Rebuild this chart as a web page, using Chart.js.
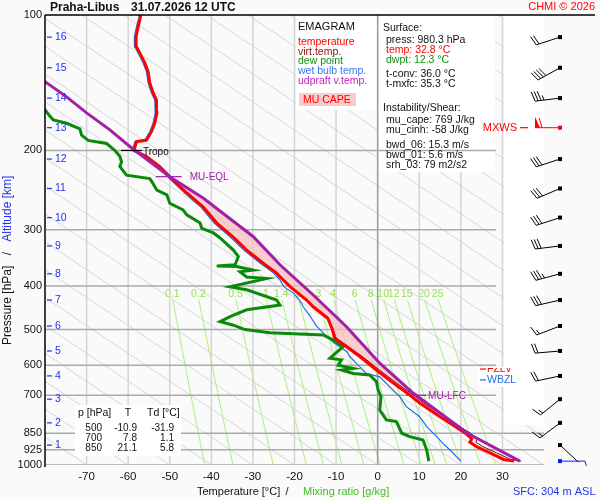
<!DOCTYPE html>
<html>
<head>
<meta charset="utf-8">
<script src="https://cdn.jsdelivr.net/npm/chart.js@4.4.1/dist/chart.umd.min.js"></script>
<style>
html, body { margin: 0; padding: 0; background: #fafafa; }
#wrap { width: 600px; height: 500px; }
</style>
</head>
<body>
<div id="wrap"><canvas id="emagram" width="600" height="500"></canvas></div>
<script>
const FONT = 'Liberation Sans, Arial, sans-serif';

// ---- sounding data (pressure hPa / temperature °C) ----
const tempP = [980.3, 972, 940, 910, 890, 875, 862, 850, 815, 781, 728, 700, 657, 615, 574, 546, 522, 500, 472, 445, 430, 402, 388, 374.6, 355.7, 333, 311, 290, 266.7, 248.6, 232.6, 217.3, 206.4, 200, 191.2, 189.6, 181.7, 173.8, 165.1, 154.5, 149, 141.6, 133.8, 127.8, 121.5, 117.6, 111.7, 106.2, 102.6, 100];
const tempT = [32.8, 30.3, 27.0, 23.8, 22.2, 22.6, 21.9, 21.1, 18.1, 15.0, 10.1, 7.8, 3.7, -0.3, -4.3, -7.5, -10.4, -10.9, -12.0, -15.5, -17.1, -21.0, -22.7, -24.3, -27.6, -31.5, -34.8, -38.7, -42.0, -45.9, -49.2, -52.4, -55.6, -58.6, -58.0, -55.6, -54.4, -53.6, -53.1, -53.2, -54.0, -54.8, -55.2, -56.0, -57.2, -58.0, -58.1, -57.6, -57.2, -57.0];

const virtP = [980.3, 972, 940, 910, 890, 875, 862, 850, 815, 781, 728, 700, 657, 615, 574, 546, 522, 500, 472, 445, 430, 402, 388, 374.6, 355.7, 333, 311, 290, 266.7, 248.6, 232.6, 217.3];
const virtT = [34.5, 32.0, 28.6, 25.3, 23.6, 23.9, 23.1, 22.3, 19.2, 16.0, 11.0, 8.7, 4.5, 0.4, -3.7, -7.0, -10.0, -10.7, -11.9, -15.4, -17.0, -20.9, -22.7, -24.3, -27.6, -31.5, -34.8, -38.7, -42.0, -45.9, -49.2, -52.4];

const dewP = [980.3, 926, 880, 865, 850, 801, 794, 755, 705, 681, 653, 631, 626, 615, 610, 600, 584, 579, 546, 537, 523, 514, 508, 500, 489, 480, 468, 452, 441, 430, 408, 402, 385, 382, 372, 369, 362, 361, 359, 344, 333, 313, 305, 298, 290, 278, 271, 262, 251, 245, 237, 231, 227, 217, 212, 206, 200, 193, 190, 185, 179, 174, 171, 168, 160, 150];
const dewT = [12.3, 11.8, 10.9, 7.7, 5.8, 4.5, 2.1, 0.5, 0.8, 0.1, -0.3, -1.9, -5.9, -8.7, -5.9, -9.5, -8.7, -11.5, -8.3, -9.5, -11.5, -13.1, -25.9, -31.9, -34.7, -37.9, -35.5, -31.5, -23.5, -24.3, -31.5, -35.5, -26.7, -31.5, -33.1, -29.9, -33.9, -38.7, -34.3, -33.5, -34.7, -37.9, -39.5, -42.3, -42.7, -45.9, -46.8, -50.0, -50.7, -53.1, -54.0, -54.8, -60.4, -62.0, -61.6, -62.0, -63.2, -65.2, -69.6, -71.2, -71.6, -74.8, -78.0, -78.8, -80.5, -84.0];

const wetP = [980.3, 926, 895, 865, 822, 781, 742, 705, 670, 637, 626, 600, 574, 560, 535, 510, 490, 466, 445, 430, 415, 402, 388, 374.6, 355.7, 333, 311, 290, 266.7, 248.6, 232.6, 217.3, 206.4, 200, 191.2, 189.6, 181.7, 173.8, 165.1, 154.5, 149, 141.6, 133.8, 127.8, 121.5, 117.6, 111.7, 106.2, 102.6, 100];
const wetT = [20.0, 17.4, 15.7, 14.2, 11.8, 10.1, 6.9, 5.3, 2.9, 0.5, -2.7, -4.7, -6.7, -7.4, -10.5, -13.0, -14.8, -16.3, -17.9, -18.8, -20.3, -22.5, -23.5, -25.0, -28.3, -32.2, -35.5, -39.3, -42.6, -46.4, -49.7, -52.8, -56.0, -59.0, -58.4, -56.0, -54.8, -54.0, -53.5, -53.6, -54.4, -55.2, -55.6, -56.4, -57.6, -58.4, -58.5, -58.0, -57.6, -57.4];

const parcelP = [980.3, 850, 693, 594, 493, 419, 359, 311, 255.5, 228.7, 196, 180, 165, 152, 140.7, 130];
const parcelT = [34.2, 21.6, 8.6, 0.5, -7.5, -15.5, -23.5, -29.9, -41.9, -50.0, -59.6, -64.4, -70.0, -74.8, -80.0, -84.0];

// levels
const lfcP = 700, eqlP = 228.7, tropoP = 200, tropoT = -58.6;
const fzlvP = 612, wbzlP = 647;

// axes
const pressureTicks = [100, 200, 300, 400, 500, 600, 700, 850, 925, 1000];
const isotherms = [-70, -60, -50, -40, -30, -20, -10, 0, 10, 20, 30];
const altKm = [16, 15, 14, 13, 12, 11, 10, 9, 8, 7, 6, 5, 4, 3, 2, 1];
const altP = [112, 131, 153, 178, 209, 243, 282, 326, 376, 430, 491, 558, 634, 714, 806, 903];
const mixRatios = [0.1, 0.2, 0.5, 1, 1.4, 2, 3, 4, 6, 8, 10, 12, 15, 20, 25];

// winds (one per km level + surface)
const windP = [112, 131, 153, 178, 209, 243, 282, 326, 376, 430, 491, 558, 634, 714, 806, 903, 980.3];
const windDir = [252, 241, 263, 270, 252, 247, 252, 263, 255, 257, 249, 265, 258, 231, 233, 133, 90];
const windKt = [20, 40, 35, 60, 30, 30, 30, 30, 35, 30, 15, 20, 20, 15, 15, 2, 5];
const mxwsIndex = 3;

// text panels
const legendItems = [
  ['temperature', '#ff0000'], ['virt.temp.', '#a01010'], ['dew point', '#109010'],
  ['wet bulb temp.', '#3377ee'], ['udpraft v.temp.', '#c020c0']
];
const surfaceLines = [
  ['press: 980.3 hPa', '#111'], ['temp: 32.8 °C', '#ff0000'], ['dwpt: 12.3 °C', '#109010']
];
const convLines = ['t-conv: 36.0 °C', 't-mxfc: 35.3 °C'];
const instabLines = ['mu_cape: 769 J/kg', 'mu_cinh: -58 J/kg'];
const shearLines = ['bwd_06: 15.3 m/s', 'bwd_01: 5.6 m/s', 'srh_03: 79 m2/s2'];
const tableP = [500, 700, 850];
const tableT = [-10.9, 7.8, 21.1];
const tableTd = [-31.9, 1.1, 5.8];

const diagSlope = 70; // °C per ln(p) unit for the background diagonals

function pts(P, T) { return P.map((p, i) => ({ x: T[i], y: p })); }

function interpLog(P, T, p) {
  for (let i = 0; i < P.length - 1; i++) {
    if (P[i] >= p && P[i + 1] <= p) {
      const f = (Math.log(P[i]) - Math.log(p)) / (Math.log(P[i]) - Math.log(P[i + 1]));
      return T[i] + f * (T[i + 1] - T[i]);
    }
  }
  return T[T.length - 1];
}

function between(P, T, pHi, pLo) {
  const out = [[pHi, interpLog(P, T, pHi)]];
  P.forEach((p, i) => { if (p < pHi && p > pLo) out.push([p, T[i]]); });
  out.push([pLo, interpLog(P, T, pLo)]);
  return out;
}

function mixTd(w, p) {
  const e = w * p / (622 + w);
  const l = Math.log(e / 6.112);
  return 243.5 * l / (17.67 - l);
}

function txt(c, s, x, y, color, size, align, weight) {
  c.font = (weight || '') + ' ' + size + 'px ' + FONT;
  c.fillStyle = color;
  c.textAlign = align || 'left';
  c.textBaseline = 'middle';
  c.fillText(s, x, y);
}

function drawBarb(c, x0, y0, dir, kt, col) {
  const a = dir * Math.PI / 180;
  const ux = Math.sin(a), uy = -Math.cos(a);
  const nx = -uy, ny = ux;
  const L = 25;
  const tx = x0 + ux * L, ty = y0 + uy * L;
  c.strokeStyle = col; c.fillStyle = col; c.lineWidth = 1;
  c.beginPath(); c.moveTo(x0, y0); c.lineTo(tx, ty); c.stroke();
  c.fillRect(x0 - 2, y0 - 2, 4, 4);
  let s = Math.round(kt / 5) * 5;
  let pos = 0;
  const bx = nx * 0.96 + ux * 0.28, by = ny * 0.96 + uy * 0.28;
  while (s >= 50) {
    const sx = tx - ux * pos, sy = ty - uy * pos;
    c.beginPath();
    c.moveTo(sx, sy);
    c.lineTo(sx + nx * 11, sy + ny * 11);
    c.lineTo(sx - ux * 5, sy - uy * 5);
    c.closePath(); c.fill();
    pos += 7; s -= 50;
  }
  while (s >= 10) {
    const sx = tx - ux * pos, sy = ty - uy * pos;
    c.beginPath(); c.moveTo(sx, sy); c.lineTo(sx + bx * 10, sy + by * 10); c.stroke();
    pos += 3; s -= 10;
  }
  if (s >= 5) {
    const sx = tx - ux * pos, sy = ty - uy * pos;
    c.beginPath(); c.moveTo(sx, sy); c.lineTo(sx + bx * 5, sy + by * 5); c.stroke();
  }
}

const emagramPlugin = {
  id: 'emagram',
  beforeDraw(chart) {
    const c = chart.ctx;
    c.save();
    c.fillStyle = '#fafafa';
    c.fillRect(0, 0, chart.width, chart.height);
    c.restore();
  },
  beforeDatasetsDraw(chart) {
    const c = chart.ctx, a = chart.chartArea;
    const xs = chart.scales.x, ys = chart.scales.y;
    const X = v => xs.getPixelForValue(v), Y = v => ys.getPixelForValue(v);
    c.save();
    c.beginPath(); c.rect(a.left, a.top, a.right - a.left, a.bottom - a.top); c.clip();

    // background diagonals
    c.strokeStyle = '#d6d6d6'; c.lineWidth = 1;
    for (let t0 = -180; t0 <= 200; t0 += 10) {
      c.beginPath();
      c.moveTo(X(t0), Y(1000));
      c.lineTo(X(t0 + diagSlope * Math.log(100 / 1000)), Y(100));
      c.stroke();
    }

    // mixing ratio lines
    c.strokeStyle = '#a8f07c'; c.lineWidth = 1;
    mixRatios.forEach(w => {
      c.beginPath();
      for (let p = 1000; p >= 430; p -= 10) {
        const px = X(mixTd(w, p)), py = Y(p);
        if (p === 1000) c.moveTo(px, py); else c.lineTo(px, py);
      }
      c.stroke();
    });
    mixRatios.forEach(w => txt(c, String(w), X(mixTd(w, 425)), Y(417), '#99dd55', 10.5, 'center'));

    // isotherms hidden by the panels
    c.strokeStyle = '#d4d4d4'; c.lineWidth = 1.5;
    isotherms.filter(t => t !== 0 && t !== 30).forEach(t => {
      c.beginPath(); c.moveTo(X(t), a.top); c.lineTo(X(t), a.bottom); c.stroke();
    });

    // panels
    c.fillStyle = '#ffffff';
    c.fillRect(296, a.top, 82, 95);
    c.fillRect(378, a.top, 117, 157);
    c.fillRect(504, a.top, 96, 410);

    c.strokeStyle = '#d4d4d4';
    c.beginPath(); c.moveTo(X(30), a.top); c.lineTo(X(30), a.bottom); c.stroke();
    c.strokeStyle = '#999999';
    c.beginPath(); c.moveTo(X(0), a.top); c.lineTo(X(0), a.bottom); c.stroke();

    // isobars
    c.strokeStyle = '#aaaaaa'; c.lineWidth = 1.5;
    pressureTicks.filter(p => p > 100).forEach(p => {
      const xe = p >= 850 ? a.right : X(28.5);
      c.beginPath(); c.moveTo(a.left, Y(p)); c.lineTo(xe, Y(p)); c.stroke();
    });

    // MU CAPE area
    const up = between(parcelP, parcelT, lfcP, eqlP);
    const env = between(virtP, virtT, lfcP, eqlP).reverse();
    c.fillStyle = 'rgba(246,190,190,0.75)';
    c.beginPath();
    up.concat(env).forEach((q, i) => {
      if (i === 0) c.moveTo(X(q[1]), Y(q[0])); else c.lineTo(X(q[1]), Y(q[0]));
    });
    c.closePath(); c.fill();
    c.restore();
  },
  afterDatasetsDraw(chart) {
    const c = chart.ctx, a = chart.chartArea;
    const xs = chart.scales.x, ys = chart.scales.y;
    const X = v => xs.getPixelForValue(v), Y = v => ys.getPixelForValue(v);
    c.save();

    // frame
    c.strokeStyle = '#000'; c.lineWidth = 1.5;
    c.beginPath(); c.moveTo(a.left, a.top); c.lineTo(595, a.top); c.stroke();
    c.beginPath(); c.moveTo(a.left, a.top); c.lineTo(a.left, a.bottom + 2); c.stroke();

    // header
    txt(c, 'Praha-Libus', 50, 8, '#111', 12, 'left', 'bold');
    txt(c, '31.07.2026 12 UTC', 131, 8, '#111', 12, 'left', 'bold');
    txt(c, 'CHMI © 2026', 595, 7, '#ff0000', 11, 'right');

    // altitude scale
    c.strokeStyle = '#2233ee'; c.lineWidth = 1.2;
    altKm.forEach((k, i) => {
      const yy = Y(altP[i]);
      c.beginPath(); c.moveTo(47, yy); c.lineTo(52, yy); c.stroke();
      txt(c, String(k), 55, yy, '#2233ee', 10.5, 'left');
    });

    // legend panel
    txt(c, 'EMAGRAM', 298, 27, '#111', 11);
    legendItems.forEach((it, i) => txt(c, it[0], 298, 42 + i * 9.8, it[1], 10.5));
    c.fillStyle = '#f8cccc';
    c.fillRect(299, 93, 57, 13);
    txt(c, 'MU CAPE', 303, 100, '#ff0000', 10.5);

    // info panel
    txt(c, 'Surface:', 383, 28, '#111', 10.5);
    surfaceLines.forEach((s, i) => txt(c, s[0], 386, 40 + i * 10, s[1], 10.5));
    convLines.forEach((s, i) => txt(c, s, 386, 74 + i * 10, '#111', 10.5));
    txt(c, 'Instability/Shear:', 383, 108, '#111', 10.5);
    instabLines.forEach((s, i) => txt(c, s, 386, 120 + i * 10, '#111', 10.5));
    shearLines.forEach((s, i) => txt(c, s, 386, 145 + i * 10, '#111', 10.5));

    // level markers
    c.lineWidth = 1.2;
    const yt = Y(tropoP), xt = X(tropoT);
    c.strokeStyle = '#000';
    c.beginPath(); c.moveTo(xt - 13, yt); c.lineTo(xt + 8, yt); c.stroke();
    txt(c, 'Tropo', xt + 9, yt + 2, '#111', 10);

    const ye = Y(eqlP), xe = X(interpLog(parcelP, parcelT, eqlP));
    c.strokeStyle = '#a020a8';
    c.beginPath(); c.moveTo(xe - 14, ye); c.lineTo(xe + 12, ye); c.stroke();
    txt(c, 'MU-EQL', xe + 20, ye + 1, '#a020a8', 10);

    const yl = Y(lfcP), xl = X(interpLog(parcelP, parcelT, lfcP));
    c.beginPath(); c.moveTo(xl - 10, yl); c.lineTo(xl + 10, yl); c.stroke();
    txt(c, 'MU-LFC', xl + 12, yl + 1, '#a020a8', 10);

    // FZLV / WBZL
    c.fillStyle = '#ffffff';
    c.fillRect(478, 367, 45, 20);
    c.save();
    c.beginPath(); c.rect(470, 368, 60, 20); c.clip();
    c.strokeStyle = '#ff0000';
    c.beginPath(); c.moveTo(480, Y(fzlvP)); c.lineTo(486, Y(fzlvP)); c.stroke();
    txt(c, 'FZLV', 487, Y(fzlvP), '#ff0000', 10.5);
    c.restore();
    c.strokeStyle = '#1f6fe8';
    c.beginPath(); c.moveTo(480, Y(wbzlP)); c.lineTo(486, Y(wbzlP)); c.stroke();
    txt(c, 'WBZL', 487, Y(wbzlP), '#1f6fe8', 10.5);

    // table
    c.fillStyle = '#ffffff';
    c.fillRect(75, 405, 106, 51);
    txt(c, 'p [hPa]', 78, 413, '#111', 10.5);
    txt(c, 'T', 128, 413, '#111', 10.5, 'center');
    txt(c, 'Td [°C]', 147, 413, '#111', 10.5);
    tableP.forEach((p, i) => {
      const yy = 428 + i * 10;
      txt(c, String(p), 102, yy, '#111', 10, 'right');
      txt(c, tableT[i].toFixed(1), 137, yy, '#111', 10, 'right');
      txt(c, tableTd[i].toFixed(1), 174, yy, '#111', 10, 'right');
    });

    // wind barbs
    windP.forEach((p, i) => {
      let col = '#000';
      if (i === mxwsIndex) col = '#ff0000';
      if (i === windP.length - 1) col = '#0022ee';
      drawBarb(c, 560, Y(p), windDir[i], windKt[i], col);
    });
    const ym = Y(windP[mxwsIndex]);
    c.strokeStyle = '#ff0000'; c.lineWidth = 1.2;
    c.beginPath(); c.moveTo(520, ym); c.lineTo(528, ym); c.stroke();
    txt(c, 'MXWS', 517, ym, '#ff0000', 11, 'right');

    // axis titles
    txt(c, 'Temperature [°C]', 197, 492, '#111', 11);
    txt(c, '/', 287, 492, '#111', 11, 'center');
    txt(c, 'Mixing ratio [g/kg]', 303, 492, '#44bb22', 11);
    txt(c, 'SFC: 304 m ASL', 513, 492, '#2233ee', 11);

    c.save();
    c.translate(8, 345);
    c.rotate(-Math.PI / 2);
    c.font = '12px ' + FONT;
    const w1 = c.measureText('Pressure [hPa]').width;
    txt(c, 'Pressure [hPa]', 0, 0, '#111', 12);
    txt(c, '/', w1 + 12, 0, '#111', 12, 'center');
    txt(c, 'Altitude [km]', w1 + 24, 0, '#2233ee', 12);
    c.restore();

    c.restore();
  }
};

new Chart(document.getElementById('emagram'), {
  type: 'scatter',
  data: {
    datasets: [
      { label: 'udpraft v.temp.', data: pts(parcelP, parcelT), borderColor: '#a020a8', borderWidth: 3, order: 0 },
      { label: 'temperature', data: pts(tempP, tempT), borderColor: '#ff0000', borderWidth: 3, order: 1 },
      { label: 'virt.temp.', data: pts(virtP, virtT), borderColor: '#8b0000', borderWidth: 1, order: 2 },
      { label: 'dew point', data: pts(dewP, dewT), borderColor: '#0a8a0a', borderWidth: 3, order: 3 },
      { label: 'wet bulb temp.', data: pts(wetP, wetT), borderColor: '#1f6fe8', borderWidth: 1.2, order: 4 }
    ].map(d => Object.assign(d, { showLine: true, pointRadius: 0, tension: 0, fill: false }))
  },
  options: {
    responsive: false,
    animation: false,
    events: [],
    layout: { padding: { left: 0, right: 56, top: 15, bottom: 0 } },
    plugins: { legend: { display: false }, tooltip: { enabled: false } },
    scales: {
      x: {
        type: 'linear', position: 'bottom', min: -80, max: 40,
        afterFit(s) { s.height = 35; },
        grid: { display: false, drawTicks: false },
        border: { display: false },
        ticks: {
          stepSize: 10, autoSkip: false, maxRotation: 0, padding: 5, color: '#111',
          font: { family: FONT, size: 11.5 },
          callback: v => (v > -80 && v < 40) ? String(v) : ''
        }
      },
      y: {
        type: 'logarithmic', position: 'left', min: 100, max: 1000, reverse: true,
        afterFit(s) { s.width = 45; },
        afterBuildTicks(s) { s.ticks = pressureTicks.map(v => ({ value: v })); },
        grid: { display: false, drawTicks: false },
        border: { display: false },
        ticks: {
          autoSkip: false, padding: 3, color: '#111',
          font: { family: FONT, size: 11 },
          callback: v => String(v)
        }
      }
    }
  },
  plugins: [emagramPlugin]
});
</script>
</body>
</html>
